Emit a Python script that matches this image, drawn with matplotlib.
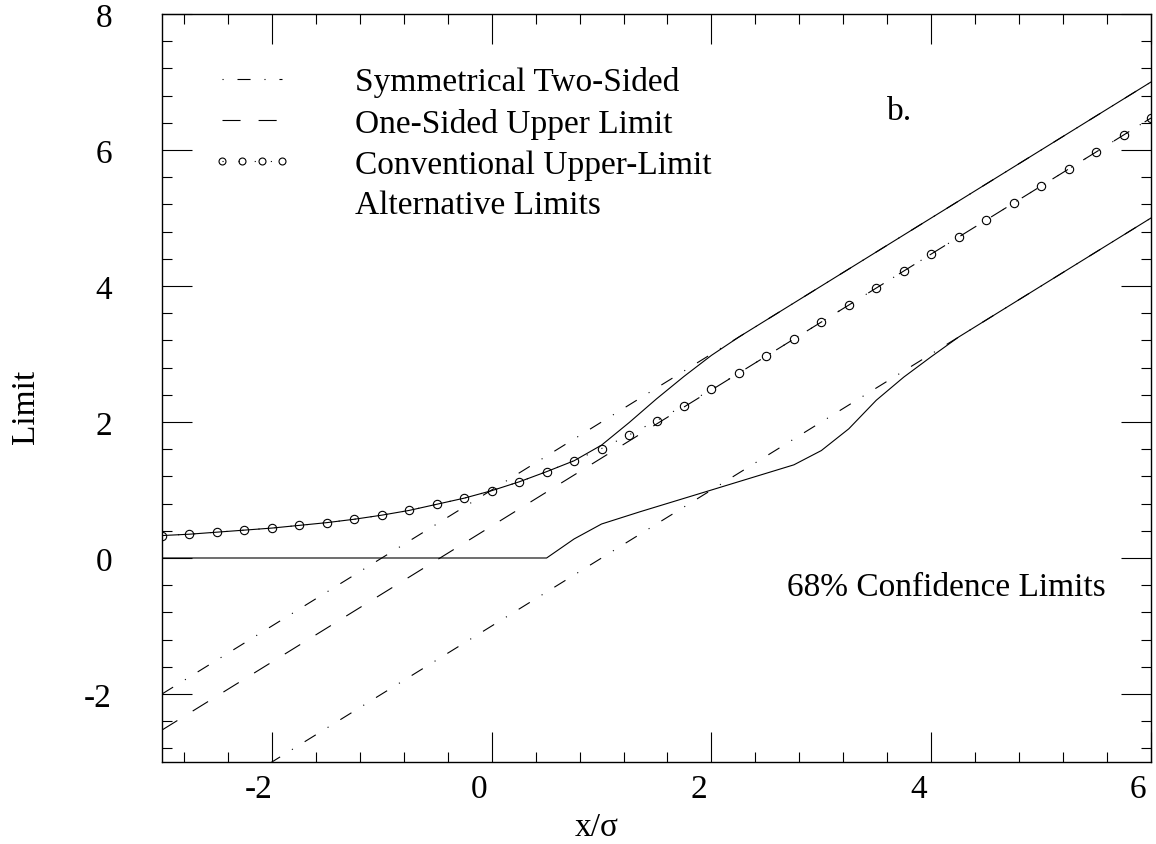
import matplotlib
matplotlib.use('Agg')
import matplotlib.pyplot as plt
from matplotlib.lines import Line2D
from matplotlib.ticker import MultipleLocator
from matplotlib.transforms import ScaledTranslation

# conventional upper limit (circles every 0.25 in x/sigma)
conv_x = [-3.0, -2.75, -2.5, -2.25, -2.0, -1.75, -1.5, -1.25, -1.0, -0.75, -0.5, -0.25,
          0.0, 0.25, 0.5, 0.75, 1.0, 1.25, 1.5, 1.75, 2.0, 2.25, 2.5, 2.75,
          3.0, 3.25, 3.5, 3.75, 4.0, 4.25, 4.5, 4.75, 5.0, 5.25, 5.5, 5.75, 6.0]
conv_y = [0.33, 0.35, 0.38, 0.41, 0.44, 0.48, 0.52, 0.57, 0.63, 0.70, 0.79, 0.88,
          0.99, 1.12, 1.27, 1.43, 1.61, 1.81, 2.02, 2.24, 2.48, 2.72, 2.97, 3.22,
          3.47, 3.72, 3.97, 4.22, 4.47, 4.72, 4.97, 5.22, 5.47, 5.72, 5.97, 6.22, 6.47]

# symmetrical two-sided and one-sided upper limit (straight lines)
line_x = [-3.0, 6.0]
sym_hi = [-2.0, 7.0]
sym_lo = [-4.0, 5.0]
one_sided = [-2.53, 6.47]

# alternative limits
alt_up_x = [-3.0, -2.75, -2.5, -2.25, -2.0, -1.75, -1.5, -1.25, -1.0, -0.75, -0.5, -0.25,
            0.0, 0.25, 0.5, 0.75, 1.0, 1.25, 1.5, 1.75, 2.0, 2.25, 2.5, 6.0]
alt_up_y = [0.33, 0.35, 0.38, 0.41, 0.44, 0.48, 0.52, 0.57, 0.63, 0.70, 0.79, 0.88,
            0.99, 1.12, 1.27, 1.43, 1.66, 1.99, 2.34, 2.67, 2.98, 3.25, 3.5, 7.0]
alt_lo_x = [-3.0, 0.5, 0.75, 1.0, 1.35, 2.0, 2.75, 3.0, 3.25, 3.5, 3.75, 4.0, 4.25, 6.0]
alt_lo_y = [0.0, 0.0, 0.28, 0.5, 0.68, 1.0, 1.37, 1.58, 1.9, 2.32, 2.66, 2.96, 3.25, 5.0]

plt.rcParams['font.family'] = ['Liberation Serif', 'DejaVu Serif']
plt.rcParams['axes.unicode_minus'] = False
plt.rcParams['lines.scale_dashes'] = False

fs = 24
lw = 0.8
dashdot = (0, (9.4, 10.0, 0.8, 10.0))
dashdot_leg = (19.4, (9.4, 10.0, 0.8, 10.0))   # legend sample starts on a dot
dashed = (0, (13.0, 13.0))
dotted = (0, (0.8, 10.8))

fig = plt.figure(figsize=(11.56, 8.45), dpi=100)
ax = fig.add_axes([162/1156, 1 - 763/845, 989/1156, 748/845])

ax.plot(line_x, sym_hi, color='k', lw=lw, linestyle=dashdot)
ax.plot(line_x, sym_lo, color='k', lw=lw, linestyle=dashdot)
ax.plot(line_x, one_sided, color='k', lw=lw, linestyle=dashed)
ax.plot(conv_x, conv_y, color='k', lw=lw, linestyle=dotted,
        marker='o', ms=6, mfc='none', mec='k', mew=0.8)
ax.plot(alt_up_x, alt_up_y, color='k', lw=lw)
ax.plot(alt_lo_x, alt_lo_y, color='k', lw=lw)

ax.set_xlim(-3, 6)
ax.set_ylim(-3, 8)
ax.xaxis.set_major_locator(MultipleLocator(2))
ax.xaxis.set_minor_locator(MultipleLocator(0.4))
ax.yaxis.set_major_locator(MultipleLocator(2))
ax.yaxis.set_minor_locator(MultipleLocator(0.4))
ax.tick_params(which='both', direction='in', top=True, right=True, width=0.8, labelsize=fs)
ax.tick_params(which='major', length=21.6)
ax.tick_params(which='minor', length=7.2)
ax.tick_params(axis='y', pad=36)
ax.tick_params(axis='x', pad=8)
for s in ax.spines.values():
    s.set_linewidth(1.0)

# x tick labels sit a little left of their ticks in the original
shift = ScaledTranslation(-13/100, 0, fig.dpi_scale_trans)
for t in ax.xaxis.get_major_ticks():
    t.label1.set_transform(t.label1.get_transform() + shift)

ax.set_xlabel('x/σ', fontsize=fs)
ax.xaxis.set_label_coords(0.44, -0.066)
ax.set_ylabel('Limit', fontsize=fs)
ax.yaxis.set_label_coords(-0.122, 0.476)

handles = [
    Line2D([], [], color='k', lw=lw, linestyle=dashdot_leg),
    Line2D([], [], color='k', lw=lw, linestyle=dashed),
    Line2D([], [], color='k', lw=lw, linestyle=dotted, marker='o', ms=5, mfc='none', mew=0.8),
    Line2D([], [], color='none'),
]
labels = ['Symmetrical Two-Sided', 'One-Sided Upper Limit',
          'Conventional Upper-Limit', 'Alternative Limits']
ax.legend(handles, labels, loc='upper left', bbox_to_anchor=(0.0506, 0.93),
          frameon=False, fontsize=fs, handlelength=2.4, handletextpad=1.9,
          labelspacing=0.31, borderpad=0, borderaxespad=0, numpoints=4)

ax.text(3.71, 6.58, 'b.', fontsize=fs, ha='center', va='center')
ax.text(2.69, -0.43, '68% Confidence Limits', fontsize=fs, ha='left', va='center')

fig.savefig('out.png', dpi=100)
